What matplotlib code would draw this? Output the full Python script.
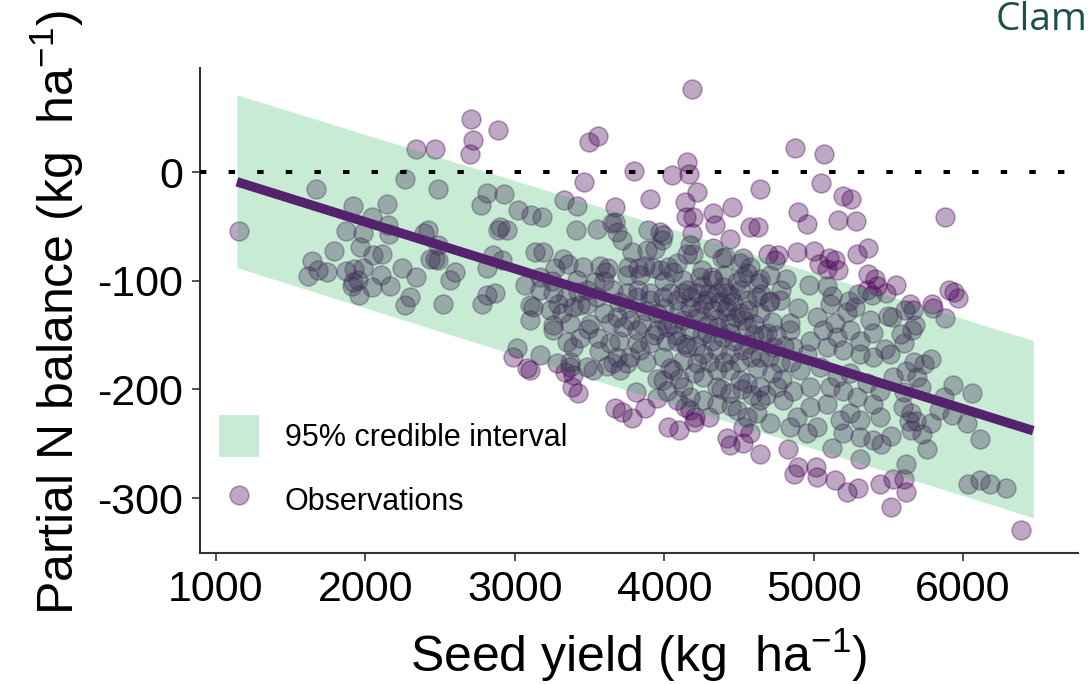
import matplotlib
matplotlib.use("Agg")
import matplotlib.pyplot as plt
from matplotlib.patches import Patch
from matplotlib.lines import Line2D

plt.rcParams['font.family'] = ['Liberation Sans', 'DejaVu Sans']
plt.rcParams['mathtext.fontset'] = 'custom'
plt.rcParams['mathtext.rm'] = 'Liberation Sans'
plt.rcParams['mathtext.it'] = 'Liberation Sans:italic'
plt.rcParams['axes.unicode_minus'] = False

# observations (seed yield, partial N balance), grouped by area of the plot
yield_left = [1154, 2707, 2720, 2700, 2339, 2466, 2887, 2265, 1669, 2486,
              2814, 2774, 1917, 2144, 2044, 2151, 1870, 1984, 2158, 2419,
              2392, 2887, 2486, 1964, 1790, 2051, 2111, 2466, 2486, 2432,
              2854, 1643, 1683, 1616, 1743, 1870, 1924, 1984, 2104, 2245,
              2339, 2600, 2566, 1917, 1950, 1910, 2044, 2165, 1957, 2298,
              2265, 2519, 2780, 2814, 2867]
nbal_left = [-54, 49, 29, 17, 21, 21, 39, -6, -16, -16,
             -19, -30, -31, -29, -41, -49, -54, -56, -57, -53,
             -56, -53, -67, -69, -73, -76, -75, -80, -81, -80,
             -76, -82, -90, -96, -92, -91, -89, -88, -95, -88,
             -97, -92, -99, -101, -99, -105, -106, -105, -113, -115,
             -122, -121, -121, -113, -111]

yield_upper = [4186, 3496, 3557, 3798, 3463, 4152, 4052, 4166, 4219, 4139,
               4146, 4192, 4186, 3905, 3670, 3329, 3416, 4326, 4340, 4454,
               4641, 4440, 4574, 4628, 4326, 4695, 4741, 3670, 3891, 3972,
               2927, 3021, 3108, 3182, 3409, 3550, 3650, 3717, 3784, 3885,
               3938, 2901, 2948, 3135, 3189, 2914, 3322, 3356, 3269, 3570,
               3624, 3758, 3824, 3925, 3972, 4059, 4086, 4152, 4192, 4126,
               4239, 4326, 4407, 4507, 4554, 4628, 4708, 2814, 3068, 3168,
               3255, 3416, 3483, 3537, 3657, 3751, 3824, 3905, 3992, 4126,
               4219, 4286, 4420, 4507, 4621, 3102, 3289, 3436]
nbal_upper = [76, 28, 33, 1, -9, 9, -3, -2, -18, -28,
              -41, -41, -56, -25, -32, -26, -31, -38, -49, -32,
              -16, -62, -51, -51, -70, -75, -81, -46, -53, -55,
              -20, -35, -40, -41, -53, -52, -47, -63, -74, -72,
              -71, -51, -53, -74, -74, -81, -80, -85, -88, -86,
              -88, -87, -88, -88, -90, -92, -84, -75, -75, -99,
              -97, -99, -78, -84, -93, -102, -95, -88, -104, -97,
              -111, -99, -109, -101, -109, -111, -109, -111, -115, -111,
              -111, -118, -111, -109, -115, -122, -121, -122]

yield_right = [4875, 5069, 5049, 5196, 5250, 4895, 4955, 5163, 5283, 5879,
               4761, 4889, 5002, 5036, 5103, 5143, 5089, 5163, 5290, 5364,
               5364, 5411, 5424, 5551, 5484, 5357, 5906, 5939, 5966, 5645,
               5792, 4969, 5089, 4815, 4782, 4641, 4708, 5123, 5237, 5297]
nbal_right = [22, 17, -10, -22, -25, -37, -48, -44, -45, -41,
              -76, -74, -73, -85, -79, -81, -89, -90, -75, -70,
              -94, -98, -105, -104, -111, -109, -109, -110, -116, -121,
              -121, -104, -105, -98, -109, -98, -119, -114, -119, -112]

yield_mid = [4527, 3684, 3985, 3992, 4172, 3456, 3604, 3838, 3871, 4025,
             4152, 4320, 4353, 4393, 4440, 4487, 4527, 4387, 4574, 3168,
             3235, 3316, 3389, 3483, 3818, 3905, 4039, 4086, 4172, 4259,
             4326, 4420, 4507, 3122, 3102, 3369, 3684, 3637, 3771, 3992,
             4126, 4219, 4440, 4527,
             5390, 5611, 5665, 5799, 5879, 4775, 4895, 5022, 5109, 5223,
             5277, 5377, 5524, 5678, 4554, 4641, 4722, 4842, 5143]
nbal_mid = [-79, -55, -63, -58, -67, -87, -92, -95, -86, -87,
            -109, -97, -111, -106, -113, -101, -97, -79, -87, -109,
            -127, -130, -124, -121, -115, -118, -111, -118, -124, -121,
            -127, -124, -130, -124, -136, -139, -133, -139, -136, -136,
            -136, -134, -139, -136,
            -113, -127, -127, -125, -134, -118, -125, -133, -121, -129,
            -124, -136, -133, -141, -118, -130, -138, -139, -139]

yield_low = [3168, 3282, 3369, 3483, 3523, 3389, 3349, 3436, 3557, 3637,
             3255, 3490, 3724, 3818, 3657, 3704, 3617, 3771, 3838, 3905,
             3818, 3992, 4059, 3992, 4019, 4126, 4086, 4172, 4259, 4353,
             4353, 4440, 4487, 4554, 4527, 4259, 4353, 4440, 4507, 4219,
             4126, 4152, 4259, 4353, 4440, 4527, 4086, 4172, 4286, 4440,
             3951, 4019, 4353, 4139, 3014, 3255, 3684, 3751]
nbal_low = [-168, -176, -175, -179, -182, -161, -156, -153, -153, -157,
            -145, -144, -143, -145, -176, -182, -178, -170, -164, -157,
            -157, -170, -182, -191, -201, -198, -210, -207, -210, -213,
            -198, -203, -219, -225, -235, -189, -182, -182, -191, -176,
            -173, -161, -167, -164, -167, -164, -155, -145, -148, -148,
            -145, -143, -143, -216, -162, -141, -170, -176]

yield_dense = [4554, 4688, 4842, 4976, 5063, 5157, 5243, 5310, 5397, 5397,
               5310, 5196, 5089, 4955, 4862, 4728, 4641, 4775, 4909, 5043,
               5157, 5243, 5357, 5444, 5397, 5290, 5196, 5109, 4976, 4862,
               4755, 4641, 4554, 4795, 4976, 5089, 5243, 5176, 5310, 5444,
               4889, 4955, 4842, 5022, 5196, 5310, 4708, 4621, 4641]
nbal_dense = [-143, -148, -145, -155, -145, -152, -145, -155, -148, -170,
              -167, -164, -161, -167, -161, -161, -170, -176, -182, -179,
              -189, -185, -194, -201, -213, -207, -201, -198, -198, -201,
              -198, -198, -194, -210, -216, -213, -222, -228, -228, -225,
              -225, -240, -235, -235, -240, -244, -231, -222, -210]

yield_core = [4250, 4300, 4370, 4410, 4460, 4480, 4560, 4600, 4350, 4290,
              4230, 4180, 4100, 4060, 4000, 3950, 3880, 3850, 3930, 4010,
              4080, 4140, 4210, 4250, 4320, 4390, 4470, 4560, 4600, 4620,
              4580, 4500, 4400, 4300, 4200, 4100, 4040, 4680, 4720, 4700,
              4660, 4750, 4800, 4790, 4850, 4700, 4650, 4400, 4250, 4000,
              3760, 3700, 3600, 3550, 3500, 3560, 3700, 3880, 3950, 4380,
              4450, 4300, 4200, 4590, 4520, 3420, 3340, 3250, 3600, 3750]
nbal_core = [-105, -112, -120, -128, -120, -133, -127, -140, -135, -140,
             -128, -115, -128, -140, -125, -130, -128, -140, -150, -155,
             -150, -158, -160, -150, -155, -152, -155, -158, -150, -180,
             -170, -175, -175, -175, -185, -190, -180, -205, -185, -170,
             -150, -150, -160, -190, -175, -120, -112, -95, -90, -100,
             -125, -120, -130, -115, -140, -165, -155, -175, -190, -200,
             -215, -225, -230, -205, -200, -110, -115, -100, -100, -95]

yield_tail = [5497, 5585, 5658, 5605, 5478, 5511, 5672, 5739, 5786, 5618,
              5531, 5692, 5719, 5933, 6060, 5872, 5839, 5926, 6027, 6114,
              5598, 5652, 5685, 5786, 5652, 5725, 5759, 5518, 5451, 5397,
              5310, 5123, 5605, 5638, 6033, 6114, 6181, 6288]
nbal_tail = [-132, -149, -145, -157, -163, -167, -175, -177, -172, -183,
             -189, -189, -198, -196, -203, -207, -219, -224, -231, -246,
             -216, -222, -229, -231, -237, -241, -255, -243, -250, -247,
             -264, -254, -202, -229, -287, -283, -287, -291]

yield_below = [3102, 3336, 3369, 3389, 3383, 3423, 3670, 3717, 3784, 3871,
               3811, 4025, 4099, 4172, 4206, 3951, 4440, 4420, 4527, 2988,
               3081, 4574, 4641, 4829, 4895, 4868, 5022, 5016, 5143, 5223,
               5297, 5444, 5531, 5605, 5618, 5618, 5518, 6388]
nbal_below = [-182, -184, -179, -187, -198, -203, -217, -221, -226, -217,
              -202, -235, -237, -219, -225, -208, -251, -245, -249, -170,
              -180, -240, -259, -255, -271, -278, -281, -271, -283, -294,
              -291, -287, -282, -282, -269, -294, -308, -329]

seed_yield = (yield_left + yield_upper + yield_right + yield_mid + yield_low
              + yield_dense + yield_core + yield_tail + yield_below)
n_balance = (nbal_left + nbal_upper + nbal_right + nbal_mid + nbal_low
             + nbal_dense + nbal_core + nbal_tail + nbal_below)

# fitted line and 95% credible interval
fit_x = [1140, 6470]
fit_y = [-9, -238]
ci_lower = [-88, -318]
ci_upper = [71, -155]

x_ticks = [1000, 2000, 3000, 4000, 5000, 6000]
y_ticks = [-300, -200, -100, 0]

point_col = '#440154'
band_col = '#23b353'

fig = plt.figure(figsize=(10.88, 6.84), dpi=100)
ax = fig.add_axes([200 / 1088, 1 - 553 / 684, 878 / 1088, 485 / 684])

ax.scatter(seed_yield, n_balance, s=185, color=point_col, alpha=0.34,
           linewidths=1.2, edgecolors=point_col, zorder=2)
ax.fill_between(fit_x, ci_lower, ci_upper, color=band_col, alpha=0.25,
                linewidth=0, zorder=3)
ax.plot(fit_x, fit_y, color='#55236e', linewidth=6.8, solid_capstyle='butt',
        zorder=4)
ax.axhline(0, color='black', linewidth=2.9, dashes=(1.6, 5.5),
           dash_capstyle='butt', zorder=5)

ax.set_xlim(893, 6769)
ax.set_ylim(-350.5, 95.7)
ax.set_xticks(x_ticks)
ax.set_yticks(y_ticks)
ax.tick_params(labelsize=31, length=6, width=1.3, color='#444444', pad=6)

for side in ['top', 'right']:
    ax.spines[side].set_visible(False)
for side in ['left', 'bottom']:
    ax.spines[side].set_color('#333333')
    ax.spines[side].set_linewidth(1.5)

ax.set_xlabel('Seed yield (kg  ha$^{-1}$)', fontsize=36, labelpad=12)
fig.text(57 / 1088, 1 - 615 / 684, 'Partial N balance (kg  ha$^{-1}$)',
         rotation=90, ha='center', va='bottom', fontsize=36)

handles = [Patch(facecolor=band_col, alpha=0.25, edgecolor='none'),
           Line2D([], [], marker='o', linestyle='none', markersize=13.5,
                  color=point_col, alpha=0.34, markeredgewidth=1.2)]
ax.legend(handles, ['95% credible interval', 'Observations'],
          loc='upper left', bbox_to_anchor=(19 / 878, (553 - 415) / 485),
          frameon=False, fontsize=22, handlelength=1.3, handleheight=1.75,
          handletextpad=0.85, labelspacing=0.72, borderpad=0,
          borderaxespad=0)

fig.text(1087 / 1088, 1 - 1 / 684, 'Clam', fontsize=28, color='#1d4f4b',
         va='top', ha='right', family=['Open Sans', 'DejaVu Sans'])

fig.savefig('out.png', dpi=100)
